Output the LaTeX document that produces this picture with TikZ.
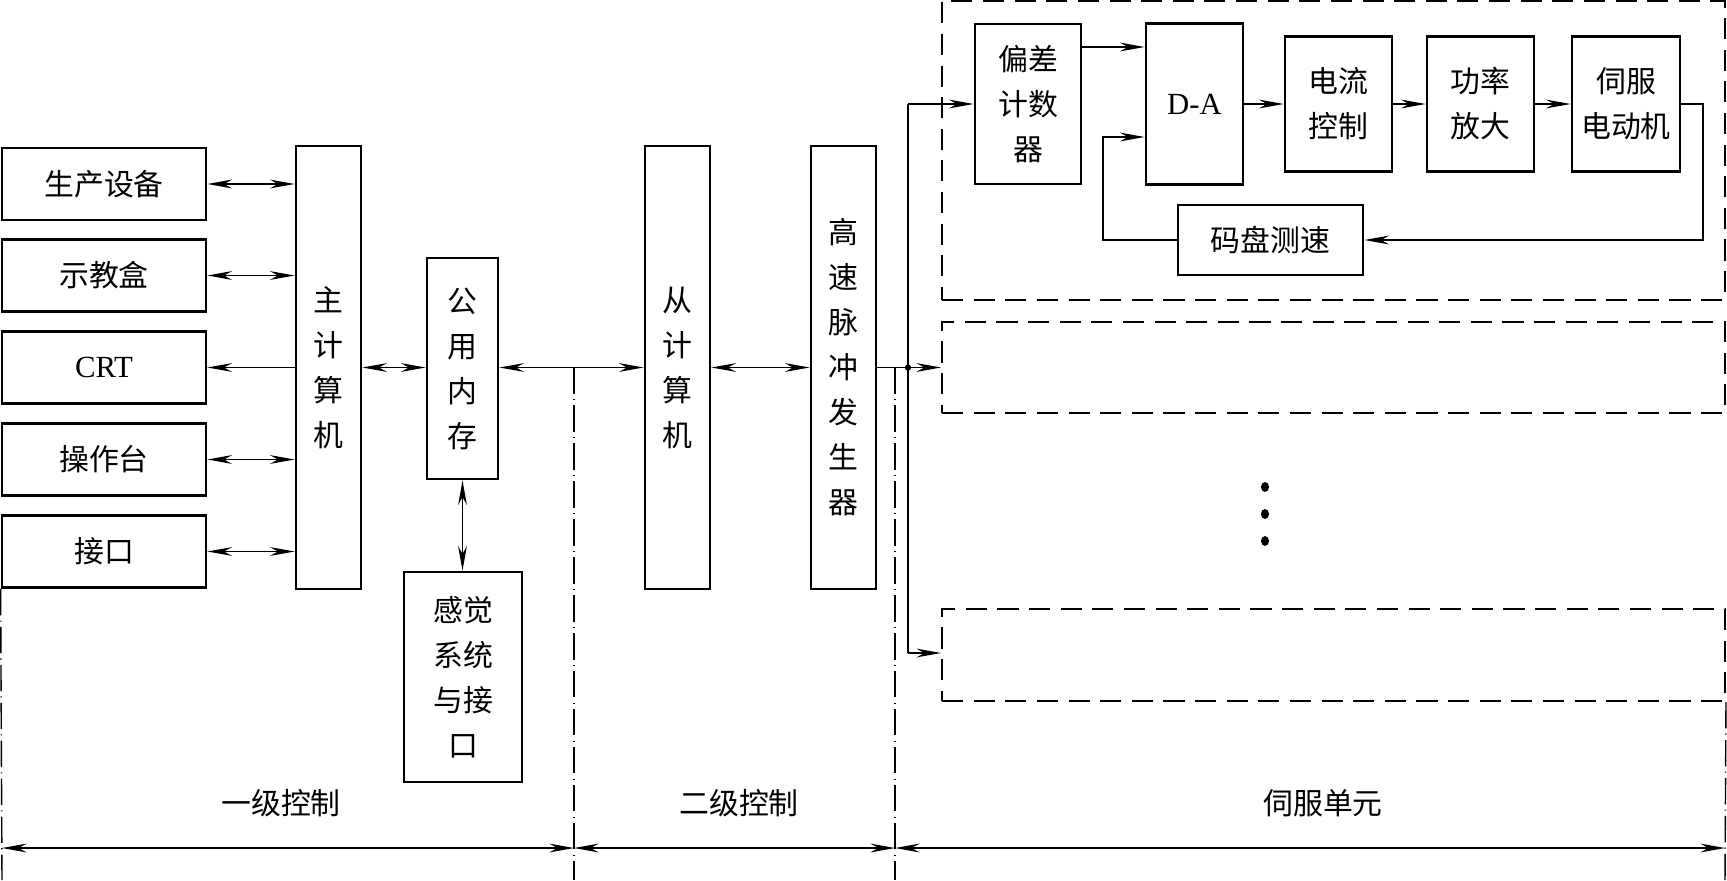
\documentclass[tikz,border=0pt]{standalone}
\usepackage{fontspec}
\setmainfont{Liberation Serif}
\newfontfamily\cjk{Noto Sans CJK SC}
\usetikzlibrary{arrows.meta}
\begin{document}
\begin{tikzpicture}[x=0.02cm,y=-0.02cm,
  box/.style={draw, line width=1.6pt, inner sep=0pt, align=center, font=\cjk\fontsize{17}{25.6}\selectfont},
  lat/.style={font=\fontsize{17.5}{20}\selectfont},
  sbox/.style={draw, line width=1.2pt, dash pattern=on 12pt off 6pt, inner sep=0pt},
  tip/.tip={Stealth[length=14pt,width=5pt,inset=4.5pt]},
  arr/.style={line width=0.8pt, -tip},
  darr/.style={line width=0.8pt, tip-tip},
  ln/.style={line width=0.8pt},
  dd/.style={line width=0.8pt, dash pattern=on 15pt off 3pt on 0.6pt off 3pt},
  lbl/.style={font=\cjk\fontsize{17}{20}\selectfont, inner sep=0pt}]
\useasboundingbox (0,0) rectangle (1727,880);

% level-1 boxes
\node[box, minimum width=4.08cm, minimum height=1.44cm] (sc) at (104,184) {生产设备};
\node[box, minimum width=4.08cm, minimum height=1.44cm] (sj) at (104,275.5) {示教盒};
\node[box, lat, minimum width=4.08cm, minimum height=1.44cm] (crt) at (104,367.5) {CRT};
\node[box, minimum width=4.08cm, minimum height=1.44cm] (cz) at (104,459.5) {操作台};
\node[box, minimum width=4.08cm, minimum height=1.44cm] (jk) at (104,551.5) {接口};
\node[box, minimum width=1.3cm, minimum height=8.86cm] (main) at (328.5,367.5) {主\\计\\算\\机};
\node[box, minimum width=1.42cm, minimum height=4.42cm] (mem) at (462.5,368.5) {公\\用\\内\\存};
\node[box, minimum width=2.36cm, minimum height=4.2cm] (sense) at (463,677) {感觉\\系统\\与接\\口};

% level-2 boxes
\node[box, minimum width=1.3cm, minimum height=8.86cm] (slave) at (677.5,367.5) {从\\计\\算\\机};
\node[box, minimum width=1.3cm, minimum height=8.86cm] (pulse) at (843.5,367.5) {高\\速\\脉\\冲\\发\\生\\器};

% servo units
\node[sbox, minimum width=15.66cm, minimum height=5.98cm] (servo1) at (1333.5,150.5) {};
\node[sbox, minimum width=15.66cm, minimum height=1.82cm] (servo2) at (1333.5,367.5) {};
\node[sbox, minimum width=15.66cm, minimum height=1.84cm] (servo3) at (1333.5,655) {};

\node[box, minimum width=2.12cm, minimum height=3.2cm] (pc) at (1028,104) {偏差\\计数\\器};
\node[box, lat, minimum width=1.94cm, minimum height=3.22cm] (da) at (1194.5,104) {D-A};
\node[box, minimum width=2.14cm, minimum height=2.7cm] (dl) at (1338.5,104) {电流\\控制};
\node[box, minimum width=2.14cm, minimum height=2.7cm] (gl) at (1480.5,104) {功率\\放大};
\node[box, minimum width=2.16cm, minimum height=2.7cm] (sf) at (1626,104) {伺服\\电动机};
\node[box, minimum width=3.7cm, minimum height=1.4cm] (mp) at (1270.5,240) {码盘测速};

% connectors level 1
\draw[darr] (sc.east) -- (sc.east -| main.west);
\draw[darr] (sj.east) -- (sj.east -| main.west);
\draw[arr] (crt.east -| main.west) -- (crt.east);
\draw[darr] (cz.east) -- (cz.east -| main.west);
\draw[darr] (jk.east) -- (jk.east -| main.west);
\draw[darr] (main.east) -- (main.east -| mem.west);
\draw[darr] (mem.south) -- (mem.south |- sense.north);
\draw[darr] (main.east -| mem.east) -- (main.east -| slave.west);
\draw[darr] (slave.east) -- (pulse.west);

% distribution to servo units
\coordinate (j) at (908,367.5);
\coordinate (jt) at (908,104);
\coordinate (jb) at (908,653);
\draw[ln] (pulse.east) -- (j);
\draw[arr] (j) -- (j -| servo2.west);
\draw[ln] (jt) -- (jb);
\draw[arr] (jt) -- (pc.west);
\draw[arr] (jb) -- (jb -| servo3.west);
\fill (j) circle[radius=1.8pt];

% servo loop
\draw[arr] (pc.east |- 0,47) -- (da.west |- 0,47);
\draw[arr] (da.east) -- (dl.west);
\draw[arr] (dl.east) -- (gl.west);
\draw[arr] (gl.east) -- (sf.west);
\coordinate (fr) at (1703,104);
\draw[arr] (sf.east) -- (fr) |- (mp.east);
\coordinate (fl) at (1103,137);
\draw[arr] (mp.west) -| (fl) -- (fl -| da.west);

% dots
\fill (1265,487) ellipse[x radius=2.3pt, y radius=2.8pt];
\fill (1265,514) ellipse[x radius=2.3pt, y radius=2.8pt];
\fill (1265,541) ellipse[x radius=2.3pt, y radius=2.8pt];

% dash-dot separators
\coordinate (s1) at (574,367.5);
\coordinate (s2) at (895,367.5);
\draw[dd] (jk.south west) -- (2,880);
\draw[dd] (s1) -- (574,880);
\draw[dd] (s2) -- (895,880);
\draw[dd] (servo3.south east) -- (1725,880);

% dimension arrows
\coordinate (b0) at (2,848);
\coordinate (b1) at (574,848);
\coordinate (b2) at (895,848);
\coordinate (b3) at (1725,848);
\draw[darr] (b0) -- (b1);
\draw[darr] (b1) -- (b2);
\draw[darr] (b2) -- (b3);

\node[lbl] (l1) at (281,803) {一级控制};
\node[lbl] (l2) at (739,803) {二级控制};
\node[lbl] (l3) at (1323,803) {伺服单元};
\end{tikzpicture}
\end{document}
